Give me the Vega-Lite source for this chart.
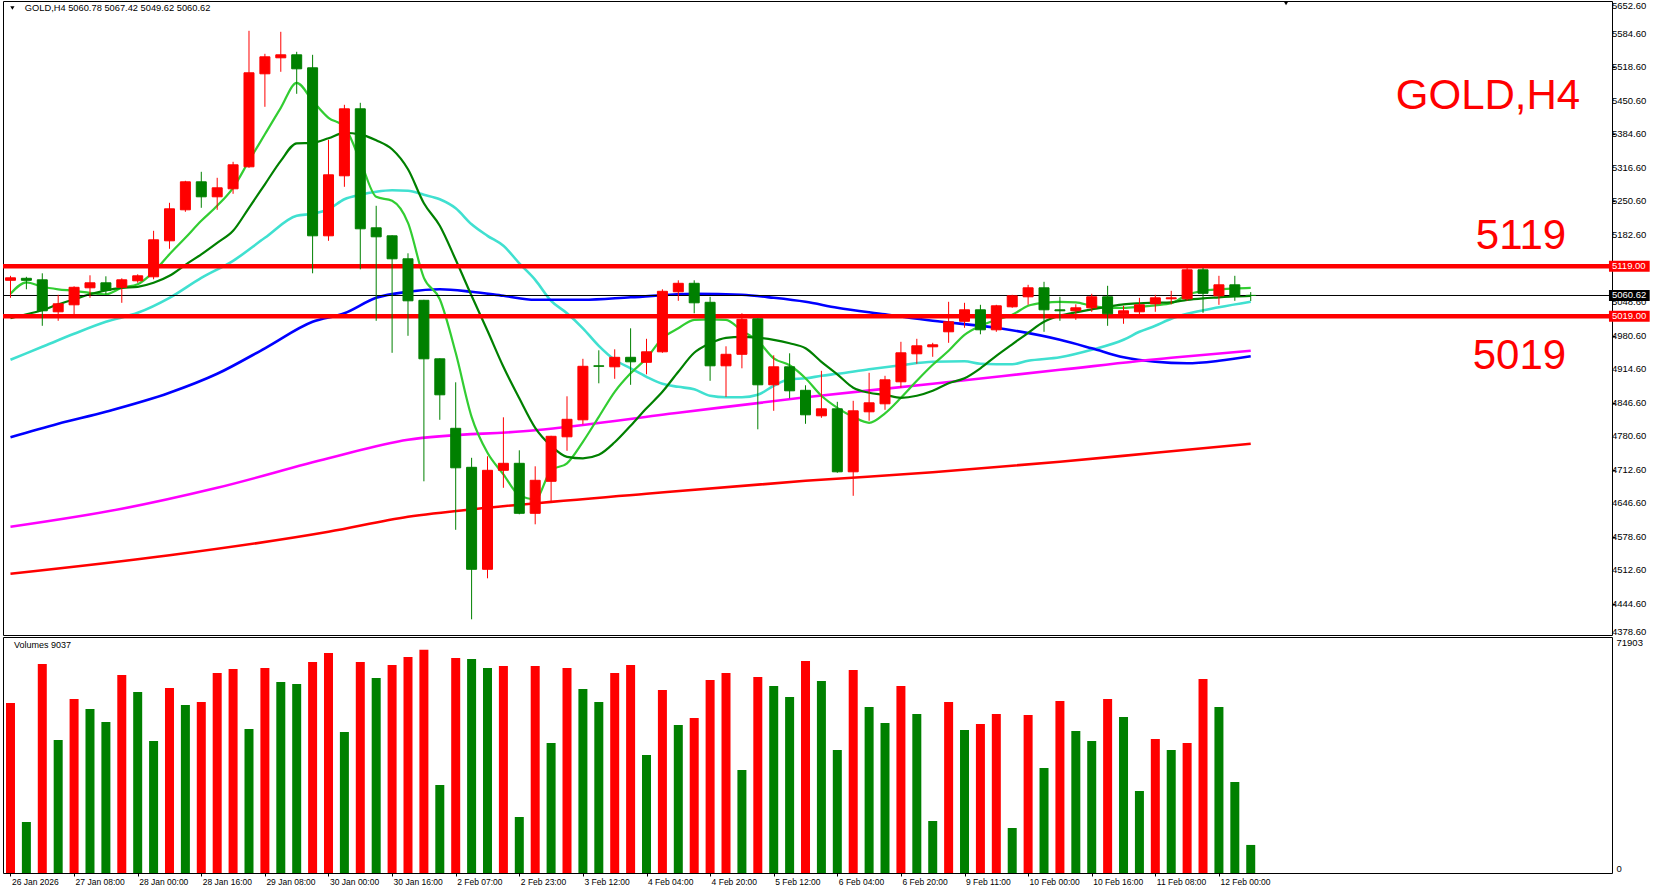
{
"$schema": "https://vega.github.io/schema/vega-lite/v6.json",
"padding": 0,
"background": "white",
"spacing": 2,
"bounds": "flush",
"config": {"view": {"stroke": "black", "strokeWidth": 1}, "axis": {"grid": false, "domain": false, "labelOverlap": false, "labelFont": "Liberation Sans", "labelColor": "black", "tickColor": "black"}, "text": {"font": "Liberation Sans"}},
"datasets": {
"one": [{}],
"pt": [{"p":4444.6},{"p":4512.6},{"p":4578.6},{"p":4646.6},{"p":4712.6},{"p":4780.6},{"p":4846.6},{"p":4914.6},{"p":4980.6},{"p":5048.6},{"p":5182.6},{"p":5250.6},{"p":5316.6},{"p":5384.6},{"p":5450.6},{"p":5518.6},{"p":5584.6}],
"c": [
{"i":0,"o":5091,"h":5100,"l":5056,"c":5096},{"i":1,"o":5095,"h":5098,"l":5073,"c":5091},{"i":2,"o":5092,"h":5105,"l":5000,"c":5030},{"i":3,"o":5028,"h":5062,"l":5010,"c":5044},{"i":4,"o":5042,"h":5079,"l":5023,"c":5077},{"i":5,"o":5076,"h":5101,"l":5056,"c":5086},{"i":6,"o":5086,"h":5099,"l":5063,"c":5071},{"i":7,"o":5077,"h":5095,"l":5046,"c":5092},{"i":8,"o":5090,"h":5103,"l":5086,"c":5100},{"i":9,"o":5098,"h":5190,"l":5093,"c":5172},
{"i":10,"o":5170,"h":5246,"l":5154,"c":5234},{"i":11,"o":5232,"h":5290,"l":5228,"c":5288},{"i":12,"o":5288,"h":5308,"l":5236,"c":5258},{"i":13,"o":5258,"h":5296,"l":5232,"c":5276},{"i":14,"o":5274,"h":5328,"l":5264,"c":5322},{"i":15,"o":5318,"h":5590,"l":5316,"c":5506},{"i":16,"o":5504,"h":5544,"l":5438,"c":5538},{"i":17,"o":5536,"h":5588,"l":5508,"c":5542},{"i":18,"o":5542,"h":5548,"l":5464,"c":5514},{"i":19,"o":5516,"h":5542,"l":5105,"c":5180},
{"i":20,"o":5180,"h":5372,"l":5170,"c":5302},{"i":21,"o":5300,"h":5442,"l":5278,"c":5434},{"i":22,"o":5434,"h":5446,"l":5113,"c":5194},{"i":23,"o":5196,"h":5240,"l":5010,"c":5178},{"i":24,"o":5180,"h":5181,"l":4946,"c":5134},{"i":25,"o":5134,"h":5145,"l":4980,"c":5050},{"i":26,"o":5051,"h":5052,"l":4689,"c":4934},{"i":27,"o":4934,"h":4935,"l":4812,"c":4862},{"i":28,"o":4795,"h":4887,"l":4592,"c":4716},{"i":29,"o":4717,"h":4736,"l":4413,"c":4513},
{"i":30,"o":4513,"h":4739,"l":4495,"c":4711},{"i":31,"o":4711,"h":4817,"l":4676,"c":4725},{"i":32,"o":4725,"h":4751,"l":4623,"c":4625},{"i":33,"o":4625,"h":4719,"l":4603,"c":4691},{"i":34,"o":4689,"h":4780,"l":4649,"c":4779},{"i":35,"o":4778,"h":4859,"l":4750,"c":4813},{"i":36,"o":4812,"h":4934,"l":4803,"c":4919},{"i":37,"o":4920,"h":4951,"l":4885,"c":4919},{"i":38,"o":4918,"h":4953,"l":4894,"c":4937},{"i":39,"o":4937,"h":4995,"l":4882,"c":4928},
{"i":40,"o":4927,"h":4974,"l":4903,"c":4948},{"i":41,"o":4948,"h":5073,"l":4946,"c":5069},{"i":42,"o":5068,"h":5091,"l":5050,"c":5085},{"i":43,"o":5085,"h":5091,"l":5025,"c":5046},{"i":44,"o":5047,"h":5058,"l":4890,"c":4920},{"i":45,"o":4920,"h":4959,"l":4858,"c":4943},{"i":46,"o":4943,"h":5025,"l":4915,"c":5013},{"i":47,"o":5014,"h":5015,"l":4793,"c":4882},{"i":48,"o":4882,"h":4941,"l":4830,"c":4918},{"i":49,"o":4918,"h":4945,"l":4855,"c":4870},
{"i":50,"o":4871,"h":4881,"l":4804,"c":4822},{"i":51,"o":4820,"h":4910,"l":4816,"c":4834},{"i":52,"o":4834,"h":4848,"l":4706,"c":4708},{"i":53,"o":4708,"h":4850,"l":4660,"c":4830},{"i":54,"o":4828,"h":4906,"l":4810,"c":4846},{"i":55,"o":4844,"h":4900,"l":4832,"c":4892},{"i":56,"o":4888,"h":4968,"l":4876,"c":4946},{"i":57,"o":4944,"h":4974,"l":4924,"c":4960},{"i":58,"o":4958,"h":4966,"l":4938,"c":4962},{"i":59,"o":4988,"h":5048,"l":4966,"c":5008},
{"i":60,"o":5009,"h":5046,"l":4996,"c":5032},{"i":61,"o":5032,"h":5042,"l":4983,"c":4992},{"i":62,"o":4992,"h":5042,"l":4988,"c":5040},{"i":63,"o":5038,"h":5062,"l":5036,"c":5060},{"i":64,"o":5058,"h":5082,"l":5042,"c":5076},{"i":65,"o":5076,"h":5088,"l":4988,"c":5032},{"i":66,"o":5032,"h":5058,"l":5010,"c":5030},{"i":67,"o":5030,"h":5043,"l":5012,"c":5036},{"i":68,"o":5036,"h":5064,"l":5028,"c":5058},{"i":69,"o":5058,"h":5080,"l":5000,"c":5024},
{"i":70,"o":5024,"h":5040,"l":5004,"c":5030},{"i":71,"o":5028,"h":5056,"l":5023,"c":5042},{"i":72,"o":5044,"h":5062,"l":5028,"c":5056},{"i":73,"o":5054,"h":5070,"l":5043,"c":5056},{"i":74,"o":5054,"h":5118,"l":5050,"c":5112},{"i":75,"o":5112,"h":5116,"l":5026,"c":5065},{"i":76,"o":5060,"h":5100,"l":5042,"c":5082},{"i":77,"o":5082,"h":5100,"l":5050,"c":5059},{"i":78,"o":5060.78,"h":5067.42,"l":5049.62,"c":5060.62}
],
"v": [
{"i":0,"v":54740,"d":"up"},{"i":1,"v":16420,"d":"down"},{"i":2,"v":67300,"d":"up"},{"i":3,"v":42830,"d":"down"},{"i":4,"v":56030,"d":"up"},{"i":5,"v":52810,"d":"down"},{"i":6,"v":48630,"d":"down"},{"i":7,"v":63760,"d":"up"},{"i":8,"v":58290,"d":"down"},{"i":9,"v":42510,"d":"down"},
{"i":10,"v":59580,"d":"up"},{"i":11,"v":54100,"d":"down"},{"i":12,"v":55070,"d":"up"},{"i":13,"v":64410,"d":"up"},{"i":14,"v":65700,"d":"up"},{"i":15,"v":46370,"d":"down"},{"i":16,"v":66020,"d":"up"},{"i":17,"v":61510,"d":"down"},{"i":18,"v":60860,"d":"down"},{"i":19,"v":67950,"d":"up"},
{"i":20,"v":70850,"d":"up"},{"i":21,"v":45410,"d":"down"},{"i":22,"v":67950,"d":"up"},{"i":23,"v":62800,"d":"down"},{"i":24,"v":66980,"d":"up"},{"i":25,"v":69560,"d":"up"},{"i":26,"v":71903,"d":"up"},{"i":27,"v":28340,"d":"down"},{"i":28,"v":69240,"d":"up"},{"i":29,"v":68900,"d":"down"},
{"i":30,"v":66020,"d":"down"},{"i":31,"v":66660,"d":"up"},{"i":32,"v":18030,"d":"down"},{"i":33,"v":66660,"d":"up"},{"i":34,"v":41860,"d":"down"},{"i":35,"v":66020,"d":"up"},{"i":36,"v":59250,"d":"down"},{"i":37,"v":55070,"d":"down"},{"i":38,"v":64410,"d":"up"},{"i":39,"v":66980,"d":"up"},
{"i":40,"v":38000,"d":"down"},{"i":41,"v":58930,"d":"up"},{"i":42,"v":47660,"d":"down"},{"i":43,"v":49910,"d":"up"},{"i":44,"v":62150,"d":"up"},{"i":45,"v":64410,"d":"up"},{"i":46,"v":33170,"d":"down"},{"i":47,"v":63120,"d":"up"},{"i":48,"v":60220,"d":"down"},{"i":49,"v":56680,"d":"down"},
{"i":50,"v":68270,"d":"up"},{"i":51,"v":61830,"d":"down"},{"i":52,"v":39610,"d":"down"},{"i":53,"v":65370,"d":"up"},{"i":54,"v":53460,"d":"down"},{"i":55,"v":48300,"d":"down"},{"i":56,"v":60220,"d":"up"},{"i":57,"v":51200,"d":"down"},{"i":58,"v":16750,"d":"down"},{"i":59,"v":55070,"d":"up"},
{"i":60,"v":46050,"d":"down"},{"i":61,"v":47980,"d":"up"},{"i":62,"v":51200,"d":"up"},{"i":63,"v":14490,"d":"down"},{"i":64,"v":50880,"d":"up"},{"i":65,"v":33810,"d":"down"},{"i":66,"v":55390,"d":"up"},{"i":67,"v":45730,"d":"down"},{"i":68,"v":42510,"d":"down"},{"i":69,"v":56030,"d":"up"},
{"i":70,"v":50240,"d":"down"},{"i":71,"v":26410,"d":"down"},{"i":72,"v":43150,"d":"up"},{"i":73,"v":39610,"d":"down"},{"i":74,"v":41860,"d":"up"},{"i":75,"v":62470,"d":"up"},{"i":76,"v":53460,"d":"down"},{"i":77,"v":29310,"d":"down"},{"i":78,"v":9037,"d":"down"}
],
"ma": [
{"s":"ma5","i":0,"v":5064},{"s":"ma5","i":1,"v":5087},{"s":"ma5","i":2,"v":5078},{"s":"ma5","i":3,"v":5073},{"s":"ma5","i":4,"v":5070},{"s":"ma5","i":5,"v":5066},{"s":"ma5","i":6,"v":5063},{"s":"ma5","i":7,"v":5076},{"s":"ma5","i":8,"v":5083},{"s":"ma5","i":9,"v":5108},
{"s":"ma5","i":10,"v":5143},{"s":"ma5","i":11,"v":5176},{"s":"ma5","i":12,"v":5210},{"s":"ma5","i":13,"v":5240},{"s":"ma5","i":14,"v":5276},{"s":"ma5","i":15,"v":5330},{"s":"ma5","i":16,"v":5383},{"s":"ma5","i":17,"v":5436},{"s":"ma5","i":18,"v":5486},{"s":"ma5","i":19,"v":5450},
{"s":"ma5","i":20,"v":5416},{"s":"ma5","i":21,"v":5398},{"s":"ma5","i":22,"v":5330},{"s":"ma5","i":23,"v":5258},{"s":"ma5","i":24,"v":5250},{"s":"ma5","i":25,"v":5206},{"s":"ma5","i":26,"v":5096},{"s":"ma5","i":27,"v":5053},{"s":"ma5","i":28,"v":4946},{"s":"ma5","i":29,"v":4818},
{"s":"ma5","i":30,"v":4746},{"s":"ma5","i":31,"v":4703},{"s":"ma5","i":32,"v":4661},{"s":"ma5","i":33,"v":4653},{"s":"ma5","i":34,"v":4711},{"s":"ma5","i":35,"v":4725},{"s":"ma5","i":36,"v":4768},{"s":"ma5","i":37,"v":4818},{"s":"ma5","i":38,"v":4868},{"s":"ma5","i":39,"v":4905},
{"s":"ma5","i":40,"v":4935},{"s":"ma5","i":41,"v":4975},{"s":"ma5","i":42,"v":4995},{"s":"ma5","i":43,"v":5012},{"s":"ma5","i":44,"v":5013},{"s":"ma5","i":45,"v":5012},{"s":"ma5","i":46,"v":4990},{"s":"ma5","i":47,"v":4970},{"s":"ma5","i":48,"v":4935},{"s":"ma5","i":49,"v":4921},
{"s":"ma5","i":50,"v":4895},{"s":"ma5","i":51,"v":4860},{"s":"ma5","i":52,"v":4836},{"s":"ma5","i":53,"v":4818},{"s":"ma5","i":54,"v":4806},{"s":"ma5","i":55,"v":4825},{"s":"ma5","i":56,"v":4856},{"s":"ma5","i":57,"v":4890},{"s":"ma5","i":58,"v":4922},{"s":"ma5","i":59,"v":4950},
{"s":"ma5","i":60,"v":4982},{"s":"ma5","i":61,"v":5000},{"s":"ma5","i":62,"v":5012},{"s":"ma5","i":63,"v":5022},{"s":"ma5","i":64,"v":5040},{"s":"ma5","i":65,"v":5046},{"s":"ma5","i":66,"v":5048},{"s":"ma5","i":67,"v":5047},{"s":"ma5","i":68,"v":5040},{"s":"ma5","i":69,"v":5036},
{"s":"ma5","i":70,"v":5036},{"s":"ma5","i":71,"v":5038},{"s":"ma5","i":72,"v":5041},{"s":"ma5","i":73,"v":5045},{"s":"ma5","i":74,"v":5062},{"s":"ma5","i":75,"v":5070},{"s":"ma5","i":76,"v":5073},{"s":"ma5","i":77,"v":5075},{"s":"ma5","i":78,"v":5076},
{"s":"ma10","i":0,"v":5015},{"s":"ma10","i":1,"v":5023},{"s":"ma10","i":2,"v":5031},{"s":"ma10","i":3,"v":5043},{"s":"ma10","i":4,"v":5053},{"s":"ma10","i":5,"v":5063},{"s":"ma10","i":6,"v":5071},{"s":"ma10","i":7,"v":5076},{"s":"ma10","i":8,"v":5078},{"s":"ma10","i":9,"v":5086},
{"s":"ma10","i":10,"v":5100},{"s":"ma10","i":11,"v":5122},{"s":"ma10","i":12,"v":5143},{"s":"ma10","i":13,"v":5166},{"s":"ma10","i":14,"v":5190},{"s":"ma10","i":15,"v":5236},{"s":"ma10","i":16,"v":5283},{"s":"ma10","i":17,"v":5330},{"s":"ma10","i":18,"v":5365},{"s":"ma10","i":19,"v":5366},
{"s":"ma10","i":20,"v":5375},{"s":"ma10","i":21,"v":5386},{"s":"ma10","i":22,"v":5383},{"s":"ma10","i":23,"v":5371},{"s":"ma10","i":24,"v":5353},{"s":"ma10","i":25,"v":5313},{"s":"ma10","i":26,"v":5245},{"s":"ma10","i":27,"v":5200},{"s":"ma10","i":28,"v":5132},{"s":"ma10","i":29,"v":5060},
{"s":"ma10","i":30,"v":4990},{"s":"ma10","i":31,"v":4918},{"s":"ma10","i":32,"v":4855},{"s":"ma10","i":33,"v":4796},{"s":"ma10","i":34,"v":4760},{"s":"ma10","i":35,"v":4738},{"s":"ma10","i":36,"v":4735},{"s":"ma10","i":37,"v":4742},{"s":"ma10","i":38,"v":4767},{"s":"ma10","i":39,"v":4800},
{"s":"ma10","i":40,"v":4835},{"s":"ma10","i":41,"v":4868},{"s":"ma10","i":42,"v":4908},{"s":"ma10","i":43,"v":4946},{"s":"ma10","i":44,"v":4965},{"s":"ma10","i":45,"v":4976},{"s":"ma10","i":46,"v":4978},{"s":"ma10","i":47,"v":4976},{"s":"ma10","i":48,"v":4972},{"s":"ma10","i":49,"v":4965},
{"s":"ma10","i":50,"v":4955},{"s":"ma10","i":51,"v":4928},{"s":"ma10","i":52,"v":4903},{"s":"ma10","i":53,"v":4876},{"s":"ma10","i":54,"v":4866},{"s":"ma10","i":55,"v":4862},{"s":"ma10","i":56,"v":4856},{"s":"ma10","i":57,"v":4860},{"s":"ma10","i":58,"v":4870},{"s":"ma10","i":59,"v":4885},
{"s":"ma10","i":60,"v":4895},{"s":"ma10","i":61,"v":4915},{"s":"ma10","i":62,"v":4940},{"s":"ma10","i":63,"v":4963},{"s":"ma10","i":64,"v":4986},{"s":"ma10","i":65,"v":5008},{"s":"ma10","i":66,"v":5020},{"s":"ma10","i":67,"v":5027},{"s":"ma10","i":68,"v":5033},{"s":"ma10","i":69,"v":5038},
{"s":"ma10","i":70,"v":5043},{"s":"ma10","i":71,"v":5045},{"s":"ma10","i":72,"v":5046},{"s":"ma10","i":73,"v":5047},{"s":"ma10","i":74,"v":5052},{"s":"ma10","i":75,"v":5055},{"s":"ma10","i":76,"v":5057},{"s":"ma10","i":77,"v":5059},{"s":"ma10","i":78,"v":5060},
{"s":"ma20","i":0,"v":4932},{"s":"ma20","i":2,"v":4958},{"s":"ma20","i":4,"v":4984},{"s":"ma20","i":6,"v":5008},{"s":"ma20","i":8,"v":5026},{"s":"ma20","i":10,"v":5056},{"s":"ma20","i":12,"v":5096},{"s":"ma20","i":14,"v":5130},{"s":"ma20","i":16,"v":5176},{"s":"ma20","i":18,"v":5220},
{"s":"ma20","i":19,"v":5224},{"s":"ma20","i":20,"v":5233},{"s":"ma20","i":21,"v":5253},{"s":"ma20","i":22,"v":5262},{"s":"ma20","i":23,"v":5268},{"s":"ma20","i":24,"v":5271},{"s":"ma20","i":25,"v":5270},{"s":"ma20","i":26,"v":5262},{"s":"ma20","i":27,"v":5253},{"s":"ma20","i":28,"v":5235},
{"s":"ma20","i":29,"v":5203},{"s":"ma20","i":30,"v":5180},{"s":"ma20","i":31,"v":5160},{"s":"ma20","i":32,"v":5125},{"s":"ma20","i":33,"v":5092},{"s":"ma20","i":34,"v":5050},{"s":"ma20","i":35,"v":5025},{"s":"ma20","i":36,"v":4995},{"s":"ma20","i":37,"v":4960},{"s":"ma20","i":38,"v":4932},
{"s":"ma20","i":39,"v":4915},{"s":"ma20","i":40,"v":4898},{"s":"ma20","i":41,"v":4884},{"s":"ma20","i":42,"v":4878},{"s":"ma20","i":43,"v":4873},{"s":"ma20","i":44,"v":4860},{"s":"ma20","i":45,"v":4857},{"s":"ma20","i":46,"v":4857},{"s":"ma20","i":47,"v":4862},{"s":"ma20","i":48,"v":4880},
{"s":"ma20","i":49,"v":4893},{"s":"ma20","i":50,"v":4895},{"s":"ma20","i":51,"v":4900},{"s":"ma20","i":52,"v":4904},{"s":"ma20","i":54,"v":4913},{"s":"ma20","i":56,"v":4921},{"s":"ma20","i":58,"v":4928},{"s":"ma20","i":60,"v":4929},{"s":"ma20","i":61,"v":4924},{"s":"ma20","i":63,"v":4923},
{"s":"ma20","i":64,"v":4930},{"s":"ma20","i":66,"v":4937},{"s":"ma20","i":68,"v":4952},{"s":"ma20","i":70,"v":4972},{"s":"ma20","i":71,"v":4988},{"s":"ma20","i":72,"v":5000},{"s":"ma20","i":73,"v":5014},{"s":"ma20","i":74,"v":5024},{"s":"ma20","i":76,"v":5037},{"s":"ma20","i":78,"v":5048},
{"s":"ma60","i":0,"v":4777},{"s":"ma60","i":3,"v":4804},{"s":"ma60","i":6,"v":4828},{"s":"ma60","i":10,"v":4866},{"s":"ma60","i":13,"v":4904},{"s":"ma60","i":16,"v":4955},{"s":"ma60","i":19,"v":5008},{"s":"ma60","i":21,"v":5025},{"s":"ma60","i":23,"v":5056},{"s":"ma60","i":25,"v":5068},
{"s":"ma60","i":27,"v":5073},{"s":"ma60","i":29,"v":5068},{"s":"ma60","i":31,"v":5060},{"s":"ma60","i":33,"v":5052},{"s":"ma60","i":36,"v":5052},{"s":"ma60","i":39,"v":5057},{"s":"ma60","i":43,"v":5064},{"s":"ma60","i":46,"v":5062},{"s":"ma60","i":48,"v":5056},{"s":"ma60","i":50,"v":5048},
{"s":"ma60","i":52,"v":5036},{"s":"ma60","i":55,"v":5023},{"s":"ma60","i":58,"v":5010},{"s":"ma60","i":62,"v":4996},{"s":"ma60","i":66,"v":4972},{"s":"ma60","i":68,"v":4955},{"s":"ma60","i":70,"v":4937},{"s":"ma60","i":72,"v":4928},{"s":"ma60","i":74,"v":4925},{"s":"ma60","i":76,"v":4930},{"s":"ma60","i":78,"v":4939},
{"s":"ma120","i":0,"v":4598},{"s":"ma120","i":7,"v":4634},{"s":"ma120","i":13,"v":4676},{"s":"ma120","i":20,"v":4735},{"s":"ma120","i":25,"v":4772},{"s":"ma120","i":33,"v":4791},{"s":"ma120","i":42,"v":4826},{"s":"ma120","i":50,"v":4857},{"s":"ma120","i":58,"v":4884},{"s":"ma120","i":66,"v":4912},{"s":"ma120","i":73,"v":4936},{"s":"ma120","i":78,"v":4950},
{"s":"ma200","i":0,"v":4504},{"s":"ma200","i":10,"v":4541},{"s":"ma200","i":20,"v":4588},{"s":"ma200","i":25,"v":4618},{"s":"ma200","i":30,"v":4636},{"s":"ma200","i":40,"v":4664},{"s":"ma200","i":50,"v":4690},{"s":"ma200","i":58,"v":4707},{"s":"ma200","i":66,"v":4728},{"s":"ma200","i":72,"v":4746},{"s":"ma200","i":78,"v":4764}
],
"lv": [
{"p":5119,"t":"5119.00","k":"level"},
{"p":5019,"t":"5019.00","k":"level"},
{"p":5060.62,"t":"5060.62","k":"cur"}
]
},
"vconcat": [
{
"width": 1609,
"height": 634,
"layer": [
{"data": {"name": "ma"}, "transform": [{"filter": {"field": "s", "oneOf": ["ma200", "ma120", "ma60", "ma20"]}}],
 "mark": {"type": "line", "clip": true, "interpolate": "monotone", "strokeWidth": 2.6},
 "encoding": {
  "x": {"field": "i", "type": "quantitative", "scale": {"domain": [-0.15625, 100.40625], "nice": false, "zero": false}, "axis": null},
  "y": {"field": "v", "type": "quantitative", "scale": {"domain": [4381.6, 5649.6], "nice": false, "zero": false},
        "axis": {"orient": "right", "title": null, "values": [4444.6, 4512.6, 4578.6, 4646.6, 4712.6, 4780.6, 4846.6, 4914.6, 4980.6, 5048.6, 5116.6, 5182.6, 5250.6, 5316.6, 5384.6, 5450.6, 5518.6, 5584.6], "tickSize": 3, "labels": false}},
  "color": {"field": "s", "type": "nominal", "scale": {"domain": ["ma200", "ma120", "ma60", "ma20", "ma10", "ma5"], "range": ["#FF0000", "#FF00FF", "#0000FF", "#40E0D0", "#008000", "#32CD32"]}, "legend": null}
 }},
{"data": {"name": "ma"}, "transform": [{"filter": {"field": "s", "oneOf": ["ma10", "ma5"]}}],
 "mark": {"type": "line", "clip": true, "interpolate": "monotone", "strokeWidth": 2.2},
 "encoding": {
  "x": {"field": "i", "type": "quantitative", "axis": null},
  "y": {"field": "v", "type": "quantitative", "axis": {"title": null}},
  "color": {"field": "s", "type": "nominal", "legend": null}
 }},
{"data": {"name": "lv"}, "transform": [{"filter": "datum.k == 'level'"}],
 "mark": {"type": "rule", "color": "#FF0000", "strokeWidth": 4.5},
 "encoding": {"y": {"field": "p", "type": "quantitative", "axis": {"title": null}}}},
{"data": {"name": "lv"}, "transform": [{"filter": "datum.k == 'cur'"}],
 "mark": {"type": "rule", "color": "black", "strokeWidth": 1},
 "encoding": {"y": {"field": "p", "type": "quantitative", "axis": {"title": null}}}},
{"data": {"name": "c"},
 "mark": {"type": "rule", "clip": true, "strokeWidth": 1},
 "encoding": {
  "x": {"field": "i", "type": "quantitative", "axis": null},
  "y": {"field": "l", "type": "quantitative", "axis": {"title": null}},
  "y2": {"field": "h"},
  "stroke": {"condition": {"test": "datum.c > datum.o", "value": "#FF0000"}, "value": "#008000"}
 }},
{"data": {"name": "c"},
 "mark": {"type": "bar", "clip": true, "size": 10, "strokeWidth": 1},
 "encoding": {
  "x": {"field": "i", "type": "quantitative", "axis": null},
  "y": {"field": "o", "type": "quantitative", "axis": {"title": null}},
  "y2": {"field": "c"},
  "fill": {"condition": {"test": "datum.c > datum.o", "value": "#FF0000"}, "value": "#008000"},
  "stroke": {"condition": {"test": "datum.c > datum.o", "value": "#FF0000"}, "value": "#008000"}
 }},
{"data": {"name": "pt"},
 "mark": {"type": "text", "align": "left", "baseline": "middle", "fontSize": 9.5, "color": "black"},
 "encoding": {
  "x": {"datum": 100.72, "axis": null},
  "y": {"field": "p", "type": "quantitative", "axis": {"title": null}},
  "text": {"field": "p", "type": "quantitative", "format": ".2f"}
 }},
{"data": {"name": "lv"},
 "mark": {"type": "rect", "yOffset": -5.5, "y2Offset": 5.5},
 "encoding": {
  "x": {"datum": 100.53, "axis": null},
  "x2": {"datum": 103.09},
  "y": {"field": "p", "type": "quantitative", "axis": {"title": null}},
  "y2": {"field": "p"},
  "fill": {"condition": {"test": "datum.k == 'cur'", "value": "#000000"}, "value": "#FF0000"}
 }},
{"data": {"name": "lv"},
 "mark": {"type": "text", "align": "left", "baseline": "middle", "fontSize": 9.5, "color": "white"},
 "encoding": {
  "x": {"datum": 100.72, "axis": null},
  "y": {"field": "p", "type": "quantitative", "axis": {"title": null}},
  "text": {"field": "t"}
 }},
{"data": {"name": "one"},
 "mark": {"type": "text", "text": "5652.60", "align": "left", "baseline": "top", "fontSize": 9.5, "color": "black"},
 "encoding": {"x": {"datum": 100.72, "axis": null}, "y": {"datum": 5649.6, "axis": {"title": null}}}},
{"data": {"name": "one"},
 "mark": {"type": "text", "text": "4378.60", "align": "left", "baseline": "middle", "fontSize": 9.5, "color": "black"},
 "encoding": {"x": {"datum": 100.72, "axis": null}, "y": {"datum": 4388.6, "axis": {"title": null}}}},
{"data": {"name": "one"},
 "mark": {"type": "text", "text": "GOLD,H4", "align": "right", "baseline": "alphabetic", "fontSize": 42, "color": "#FF0000"},
 "encoding": {"x": {"datum": 98.72, "axis": null}, "y": {"datum": 5433.6, "axis": {"title": null}}}},
{"data": {"name": "one"},
 "mark": {"type": "text", "text": "5119", "align": "right", "baseline": "alphabetic", "fontSize": 42, "color": "#FF0000"},
 "encoding": {"x": {"datum": 97.84, "axis": null}, "y": {"datum": 5153.6, "axis": {"title": null}}}},
{"data": {"name": "one"},
 "mark": {"type": "text", "text": "5019", "align": "right", "baseline": "alphabetic", "fontSize": 42, "color": "#FF0000"},
 "encoding": {"x": {"datum": 97.84, "axis": null}, "y": {"datum": 4913.6, "axis": {"title": null}}}},
{"data": {"name": "one"},
 "mark": {"type": "text", "text": "GOLD,H4  5060.78 5067.42 5049.62 5060.62", "align": "left", "baseline": "middle", "fontSize": 9.3, "color": "black"},
 "encoding": {"x": {"datum": 0.9, "axis": null}, "y": {"datum": 5635.6, "axis": {"title": null}}}},
{"data": {"name": "one"},
 "mark": {"type": "point", "shape": "triangle-down", "filled": true, "size": 18, "color": "black", "opacity": 1},
 "encoding": {"x": {"datum": 0.12, "axis": null}, "y": {"datum": 5635.6, "axis": {"title": null}}}},
{"data": {"name": "one"},
 "mark": {"type": "point", "shape": "triangle-down", "filled": true, "size": 35, "color": "black", "opacity": 1, "clip": true},
 "encoding": {"x": {"datum": 80.22, "axis": null}, "y": {"datum": 5646.0, "axis": {"title": null}}}}
]
},
{
"width": 1609,
"height": 236,
"layer": [
{"data": {"name": "v"},
 "mark": {"type": "bar", "clip": true, "size": 9},
 "encoding": {
  "x": {"field": "i", "type": "quantitative", "scale": {"domain": [-0.15625, 100.40625], "nice": false, "zero": false},
        "axis": {"orient": "bottom", "title": null, "values": [0, 4, 8, 12, 16, 20, 24, 28, 32, 36, 40, 44, 48, 52, 56, 60, 64, 68, 72, 76],
                 "labelExpr": "['26 Jan 2026','27 Jan 08:00','28 Jan 00:00','28 Jan 16:00','29 Jan 08:00','30 Jan 00:00','30 Jan 16:00','2 Feb 07:00','2 Feb 23:00','3 Feb 12:00','4 Feb 04:00','4 Feb 20:00','5 Feb 12:00','6 Feb 04:00','6 Feb 20:00','9 Feb 11:00','10 Feb 00:00','10 Feb 16:00','11 Feb 08:00','12 Feb 00:00'][round(datum.value/4)]",
                 "tickSize": 3, "labelPadding": 1, "labelAlign": "left", "labelOffset": 1, "labelFontSize": 8.5, "labelFlush": false, "labelOverlap": false, "labelBound": false}},
  "y": {"field": "v", "type": "quantitative", "scale": {"domain": [0, 76000], "nice": false, "zero": true},
        "axis": {"orient": "right", "title": null, "values": [0, 76000], "labelExpr": "datum.value == 0 ? '0' : '71903'", "tickSize": 3, "tickOpacity": 0, "labelPadding": 1, "labelFlush": true, "labelFontSize": 9.5, "labelAlign": "left", "labelOverlap": false}},
  "fill": {"field": "d", "type": "nominal", "scale": {"domain": ["up", "down"], "range": ["#FF0000", "#008000"]}, "legend": null}
 }},
{"data": {"name": "one"},
 "mark": {"type": "text", "text": "Volumes 9037", "align": "left", "baseline": "middle", "fontSize": 9, "color": "black"},
 "encoding": {"x": {"datum": 0.22, "axis": {"title": null}}, "y": {"datum": 73400, "axis": {"title": null}}}}
]
}
],
"resolve": {"scale": {"fill": "independent", "color": "independent"}}
}
